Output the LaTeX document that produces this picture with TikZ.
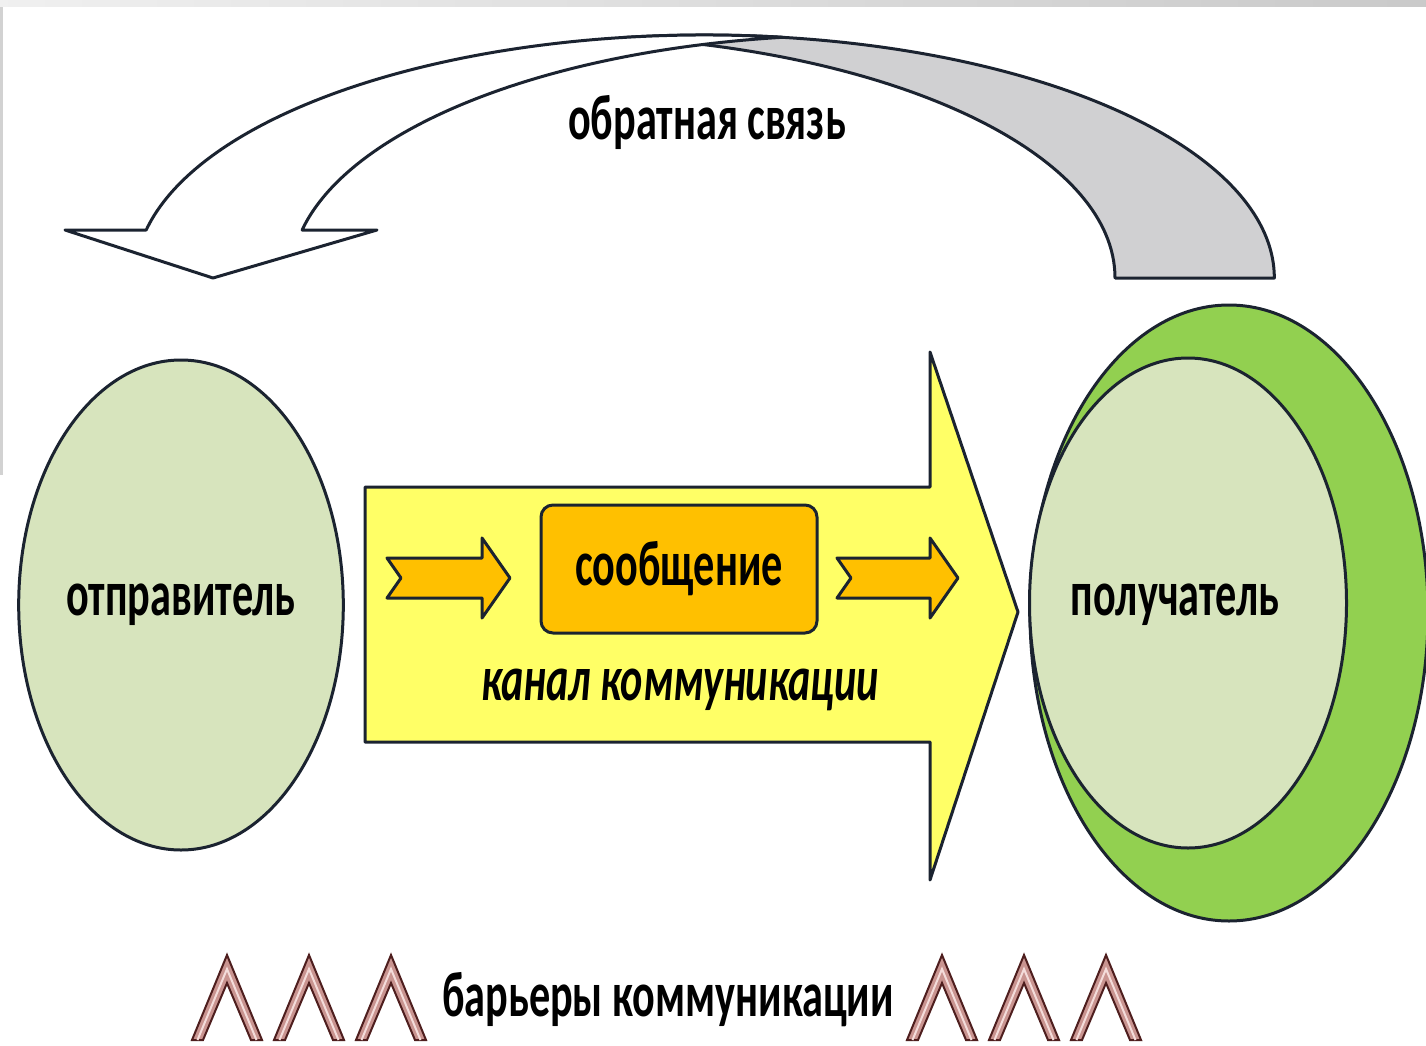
\documentclass[tikz,border=0pt]{standalone}
\usepackage{fontspec}
\setmainfont{Carlito}[FakeStretch=0.66]
\usetikzlibrary{shapes.geometric}
\definecolor{ink}{HTML}{1B2330}
\definecolor{pale}{HTML}{D7E4BD}
\definecolor{lime}{HTML}{92D050}
\definecolor{canary}{HTML}{FFFF66}
\definecolor{amber}{HTML}{FFC000}
\definecolor{fbgray}{HTML}{D0D0D2}
\definecolor{maroon}{HTML}{4E1E1E}
\definecolor{rosy}{HTML}{C99490}
\definecolor{blush}{HTML}{F4DCDA}
\tikzset{
  outline/.style={draw=ink, line width=3pt, line join=round},
  bigtext/.style={font=\fontsize{64}{70}\selectfont\bfseries, text=black, inner sep=0pt},
  slanttext/.style={font=\fontsize{64}{70}\selectfont\bfseries\itshape, text=black, inner sep=0pt},
  barrier/.style={draw=maroon, fill=rosy, line width=2pt, line join=miter},
  barrierline/.style={draw=blush, line width=2pt},
}
\begin{document}
\begin{tikzpicture}[x=1pt,y=-1pt]
\useasboundingbox (0,0) rectangle (1426,1046);
\fill[white] (0,0) rectangle (1426,1046);
\shade[left color=gray!12, right color=gray!42] (0,0) rectangle (1426,7);
\fill[gray!35] (0,7) rectangle (3,475);

% feedback arrow: back (gray) part
\path[outline, fill=fbgray] (625,37.4)
  arc[start angle=262.0, end angle=360, x radius=570, y radius=243]
  -- (1115,278)
  arc[start angle=0, end angle=-82.0, x radius=570, y radius=243]
  -- cycle;
% feedback arrow: front (white) part with head
\path[outline, fill=white] (146.2,230)
  arc[start angle=191.39, end angle=277.86, x radius=570, y radius=243]
  arc[start angle=262.14, end angle=191.39, x radius=570, y radius=243]
  -- (377,230) -- (213,278) -- (65,230) -- cycle;
\node[bigtext] (fb) at (707,122) {обратная связь};

% sender
\node[outline, ellipse, fill=pale, minimum width=322pt, minimum height=490pt, bigtext] (sender) at (181,605) {отправитель};

% channel arrow
\draw[outline, fill=canary] (365,487) -- (930,487) -- (930,352) -- (1018,612)
  -- (930,880) -- (930,742) -- (365,742) -- cycle;

% message
\node[outline, fill=amber, rounded corners=12pt, minimum width=276pt, minimum height=128pt, bigtext] (msg) at (679,569) {сообщение};

% small notched arrows
\draw[outline, fill=amber] (387,558) -- (482,558) -- (482,538) -- (510,578) -- (482,618)
  -- (482,598) -- (387,598) -- (401,578) -- cycle;
\draw[outline, fill=amber] (837,558) -- (930,558) -- (930,538) -- (958,578) -- (930,618)
  -- (930,598) -- (837,598) -- (851,578) -- cycle;

\node[slanttext] (chan) at (680,690) {канал коммуникации};

% receiver
\node[outline, ellipse, fill=lime, minimum width=398pt, minimum height=616pt] (ring) at (1229,613) {};
\node[outline, ellipse, fill=pale, minimum width=317pt, minimum height=490pt] (receiver) at (1188,603) {};
\node[bigtext] (recvlbl) at (1175,605) {получатель};

% barriers
\foreach \p in {227,309,391,942,1024,1106}{
  \path[barrier] (\p-35,1040) -- (\p,955) -- (\p+35,1040) -- (\p+24,1040)
    -- (\p,983) -- (\p-24,1040) -- cycle;
  \draw[barrierline] (\p-29.5,1040) -- (\p,969) -- (\p+29.5,1040);
}
\node[bigtext] (barlbl) at (668,1000) {барьеры коммуникации};
\end{tikzpicture}
\end{document}
